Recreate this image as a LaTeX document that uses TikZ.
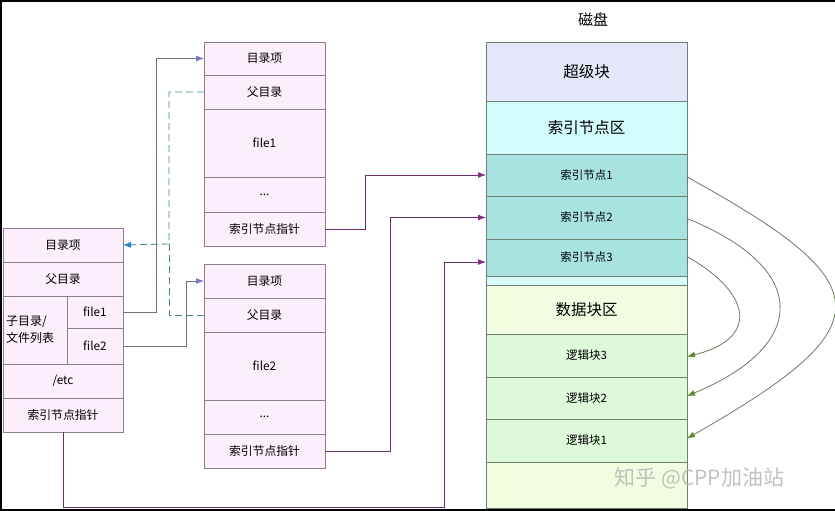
\documentclass[tikz,border=0pt]{standalone}
\usepackage{fontspec}
\setmainfont{Noto Sans CJK SC}
\usetikzlibrary{arrows.meta}
\definecolor{cellpink}{HTML}{FCEEFB}
\definecolor{cellline}{HTML}{8C7E8C}
\definecolor{diskline}{HTML}{6F7F70}
\definecolor{superc}{HTML}{E4E6FA}
\definecolor{inodearea}{HTML}{D2FBFB}
\definecolor{inodec}{HTML}{A8E3E2}
\definecolor{stripc}{HTML}{D8FAFA}
\definecolor{dataarea}{HTML}{F1FCE1}
\definecolor{blockc}{HTML}{DDF9DA}
\definecolor{fileline}{HTML}{70707E}
\definecolor{filetip}{HTML}{7E74C8}
\definecolor{ptrline}{HTML}{6A2C6A}
\definecolor{ptrtip}{HTML}{7D3380}
\definecolor{dashline}{HTML}{3C8A8A}
\definecolor{dashtip}{HTML}{1E86D6}
\definecolor{curveline}{HTML}{6E7A5E}
\definecolor{curvetip}{HTML}{5E8A2A}
\tikzset{
  cell/.style={draw=cellline, fill=cellpink, line width=0.9pt, anchor=north west,
    inner sep=0pt, outer sep=0pt, minimum width=120pt, font=\fontsize{11.8}{14}\selectfont},
  midcell/.style={cell, minimum width=121pt},
  diskcell/.style={draw=diskline, line width=0.9pt, anchor=north west, inner sep=0pt,
    outer sep=0pt, minimum width=201pt, font=\fontsize{11.5}{14}\selectfont},
  bigtext/.style={font=\fontsize{15.5}{18}\selectfont},
  fileconn/.style={draw=fileline, line width=0.8pt, -{Latex[length=8pt,width=6pt,color=filetip]}},
  ptrconn/.style={draw=ptrline, line width=0.9pt, -{Latex[length=8pt,width=6pt,color=ptrtip]}},
  dashconn/.style={draw=dashline, line width=0.8pt, dash pattern=on 7pt off 4pt},
  curveconn/.style={draw=curveline, line width=0.8pt, -{Latex[length=8pt,width=6pt,color=curvetip]}}
}
\begin{document}
\begin{tikzpicture}[x=1pt,y=-1pt]
\useasboundingbox (0,0) rectangle (835,511);
\fill[white] (0,0) rectangle (835,511);
% frame of the screenshot
\fill[black] (0,0) rectangle (835,2);
\fill[black] (0,0) rectangle (2,511);
\fill[black] (0,508.5) rectangle (835,511);

% left directory block
\node[cell, minimum height=34pt] (L1) at (3,228) {目录项};
\node[cell, minimum height=34pt] (L2) at (3,262) {父目录};
\node[cell, minimum width=64pt, minimum height=68pt, align=left, text width=58pt, inner xsep=3pt, font=\fontsize{12}{17}\selectfont] (L3) at (3,296) {子目录/\\文件列表};
\node[cell, minimum width=56pt, minimum height=32pt] (Lf1) at (67,296) {file1};
\node[cell, minimum width=56pt, minimum height=36pt] (Lf2) at (67,328) {file2};
\node[cell, minimum height=34pt] (L4) at (3,364) {/etc};
\node[cell, minimum height=34pt] (L5) at (3,398) {索引节点指针};

% top middle block
\node[midcell, minimum height=33pt] (T1) at (204,42) {目录项};
\node[midcell, minimum height=34pt] (T2) at (204,75) {父目录};
\node[midcell, minimum height=68pt] (T3) at (204,109) {file1};
\node[midcell, minimum height=35pt] (T4) at (204,177) {...};
\node[midcell, minimum height=34pt] (T5) at (204,212) {索引节点指针};

% bottom middle block
\node[midcell, minimum height=34pt] (B1) at (204,264) {目录项};
\node[midcell, minimum height=34pt] (B2) at (204,298) {父目录};
\node[midcell, minimum height=68pt] (B3) at (204,332) {file2};
\node[midcell, minimum height=34pt] (B4) at (204,400) {...};
\node[midcell, minimum height=34pt] (B5) at (204,434) {索引节点指针};

% disk
\node[font=\fontsize{15}{18}\selectfont] (title) at (593,20) {磁盘};
\node[diskcell, fill=superc, minimum height=59pt, bigtext] (D0) at (486,42) {超级块};
\node[diskcell, fill=inodearea, minimum height=53pt, bigtext] (D1) at (486,101) {索引节点区};
\node[diskcell, fill=inodec, minimum height=42pt] (I1) at (486,154) {索引节点1};
\node[diskcell, fill=inodec, minimum height=43pt] (I2) at (486,196) {索引节点2};
\node[diskcell, fill=inodec, minimum height=37pt] (I3) at (486,239) {索引节点3};
\node[diskcell, fill=stripc, minimum height=9pt] (S) at (486,276) {};
\node[diskcell, fill=dataarea, minimum height=49pt, bigtext] (D2) at (486,285) {数据块区};
\node[diskcell, fill=blockc, minimum height=43pt] (G3) at (486,334) {逻辑块3};
\node[diskcell, fill=blockc, minimum height=42pt] (G2) at (486,377) {逻辑块2};
\node[diskcell, fill=blockc, minimum height=43pt] (G1) at (486,419) {逻辑块1};
\node[diskcell, fill=dataarea, minimum height=46pt] (Dend) at (486,462) {};

% file entries to directory blocks
\draw[fileconn] (Lf1.east) -- (156,312) |- (T1.west);
\draw[fileconn] (Lf2.east) -- (186,346) |- (B1.west);

% parent directory links (dashed)
\coordinate (pj) at (169,244);
\draw[dashconn] (B2.west) -| (pj);
\draw[dashconn, -{Latex[length=8pt,width=6pt,color=dashtip]}] (T2.west) -| (pj) -- (L1.east);

% inode pointers
\draw[ptrconn] (T5.east) -- (365,229) |- (I1.west);
\draw[ptrconn] (B5.east) -- (390,451) |- (I2.west);
\coordinate (i3in) at (486,262);
\draw[ptrconn] (L5.south) -- (63,507.5) -- (444,507.5) |- (i3in);

% inode to logical blocks
\draw[curveconn] ([yshift=-2pt]I1.east) .. controls (884,285) and (884,326) .. ([yshift=2pt]G1.east);
\draw[curveconn] ([yshift=-1pt]I2.east) .. controls (810,268) and (810,345) .. ([yshift=2pt]G2.east);
\draw[curveconn] ([yshift=1pt]I3.east) .. controls (756,296) and (756,340) .. ([yshift=-1pt]G3.east);

% watermark
\node[anchor=west, text=gray!60, opacity=0.8, font=\fontsize{21}{24}\selectfont] (wm) at (611,478) {知乎 @CPP加油站};
\end{tikzpicture}
\end{document}
